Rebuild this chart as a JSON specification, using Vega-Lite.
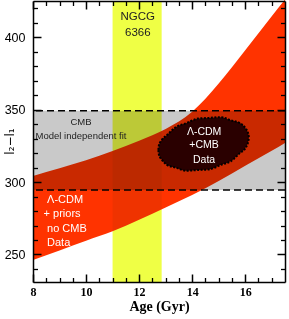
{
  "$schema": "https://vega.github.io/schema/vega-lite/v6.json",
  "width": 252,
  "height": 281,
  "autosize": {"type": "none"},
  "padding": {"left": 33, "top": 1, "right": 4, "bottom": 37},
  "background": "white",
  "config": {"view": {"stroke": null}, "axis": {"grid": false}},
  "resolve": {"axis": {"x": "independent", "y": "independent"}},
  "layer": [
    {
      "data": {"values": [{"x0": 8, "x1": 17.5, "y0": 294.5, "y1": 349.3}]},
      "mark": {"type": "rect", "fill": "#c9c9c9", "strokeWidth": 0, "blend": "multiply"},
      "encoding": {
        "x": {"field": "x0", "type": "quantitative", "scale": {"domain": [8, 17.5], "nice": false, "zero": false},
          "axis": {"orient": "bottom", "values": [8, 10, 12, 14, 16], "ticks": false, "domain": false, "labelPadding": 4,
            "labelFont": "Liberation Serif", "labelFontWeight": "bold", "labelFontSize": 12, "labelColor": "black",
            "labelFlush": false, "labelOverlap": false, "title": "Age (Gyr)", "titleFont": "Liberation Serif",
            "titleFontSize": 14, "titleFontWeight": "bold", "titleColor": "black", "titlePadding": 2}},
        "x2": {"field": "x1"},
        "y": {"field": "y0", "type": "quantitative", "scale": {"domain": [231, 425], "nice": false, "zero": false},
          "axis": {"orient": "left", "values": [250, 300, 350, 400], "ticks": false, "domain": false, "labelPadding": 8,
            "labelFont": "Liberation Sans", "labelFontSize": 12.5, "labelColor": "black", "labelFlush": false,
            "title": "l₂−l₁", "titleX": -24, "titleY": 140, "titleAngle": -90, "titleAlign": "center",
            "titleBaseline": "middle", "titleFont": "DejaVu Sans", "titleFontSize": 12, "titleFontWeight": "normal",
            "titleColor": "black"}},
        "y2": {"field": "y1"}
      }
    },
    {
      "data": {"values": [{"x0": 11.0, "x1": 12.85, "y0": 231, "y1": 425}]},
      "mark": {"type": "rect", "fill": "#efff45", "strokeWidth": 0, "blend": "multiply"},
      "encoding": {
        "x": {"field": "x0", "type": "quantitative",
          "axis": {"orient": "top", "offset": -281, "values": [8, 10, 12, 14, 16],
            "labels": false, "title": null, "domain": true, "domainColor": "black", "domainWidth": 1.5,
            "tickColor": "black", "tickWidth": 1.5, "tickSize": 8, "zindex": 2}},
        "x2": {"field": "x1"},
        "y": {"field": "y0", "type": "quantitative",
          "axis": {"orient": "right", "offset": -252, "values": [250, 300, 350, 400],
            "labels": false, "title": null, "domain": true, "domainColor": "black", "domainWidth": 1.5,
            "tickColor": "black", "tickWidth": 1.5, "tickSize": 8, "zindex": 2}},
        "y2": {"field": "y1"}
      }
    },
    {
      "data": {"values": [
        {"age": 8, "lo": 246.2, "hi": 304.2},
        {"age": 9, "lo": 252.8, "hi": 309.5},
        {"age": 10, "lo": 259.5, "hi": 315.0},
        {"age": 11, "lo": 266.0, "hi": 321.5},
        {"age": 12, "lo": 274.0, "hi": 328.5},
        {"age": 13, "lo": 282.5, "hi": 336.6},
        {"age": 14, "lo": 291.0, "hi": 348.5},
        {"age": 15, "lo": 300.7, "hi": 368.0},
        {"age": 16, "lo": 311.3, "hi": 391.0},
        {"age": 17, "lo": 321.6, "hi": 414.5},
        {"age": 17.5, "lo": 327.0, "hi": 426.0}
      ]},
      "mark": {"type": "area", "fill": "#ff3300", "blend": "multiply", "interpolate": "monotone"},
      "encoding": {
        "x": {"field": "age", "type": "quantitative",
          "axis": {"orient": "bottom", "offset": -281, "values": [8, 10, 12, 14, 16],
            "labels": false, "title": null, "domain": true, "domainColor": "black", "domainWidth": 1.5,
            "tickColor": "black", "tickWidth": 1.5, "tickSize": 8, "zindex": 2}},
        "y": {"field": "lo", "type": "quantitative",
          "axis": {"orient": "left", "offset": -252, "values": [250, 300, 350, 400],
            "labels": false, "title": null, "domain": true, "domainColor": "black", "domainWidth": 1.5,
            "tickColor": "black", "tickWidth": 1.5, "tickSize": 8, "zindex": 2}},
        "y2": {"field": "hi"}
      }
    },
    {
      "data": {"values": [
        {"age": 12.724, "lo": 322.1, "hi": 322.1},
        {"age": 12.75, "lo": 318.7, "hi": 325.6},
        {"age": 12.852, "lo": 315.6, "hi": 329.0},
        {"age": 13.052, "lo": 311.8, "hi": 332.5},
        {"age": 13.391, "lo": 309.9, "hi": 338.0},
        {"age": 13.768, "lo": 307.8, "hi": 340.6},
        {"age": 14.22, "lo": 308.3, "hi": 343.8},
        {"age": 14.635, "lo": 308.7, "hi": 344.3},
        {"age": 15.087, "lo": 311.9, "hi": 344.8},
        {"age": 15.464, "lo": 314.5, "hi": 342.6},
        {"age": 15.804, "lo": 320.1, "hi": 340.7},
        {"age": 16.003, "lo": 323.3, "hi": 337.3},
        {"age": 16.117, "lo": 328.1, "hi": 333.3},
        {"age": 16.139, "lo": 330.8, "hi": 330.8}
      ]},
      "mark": {"type": "area", "fill": "#2a0000", "stroke": "black", "strokeWidth": 2, "strokeDash": [2, 1.5], "interpolate": "monotone"},
      "encoding": {
        "x": {"field": "age", "type": "quantitative",
          "axis": {"orient": "top", "offset": -281, "values": [8.5, 9, 9.5, 10.5, 11, 11.5, 12.5, 13, 13.5, 14.5, 15, 15.5, 16.5, 17],
            "labels": false, "title": null, "domain": false, "tickColor": "black", "tickWidth": 1.3, "tickSize": 4.5, "zindex": 2}},
        "y": {"field": "lo", "type": "quantitative",
          "axis": {"orient": "right", "offset": -252, "values": [240, 260, 270, 280, 290, 310, 320, 330, 340, 360, 370, 380, 390, 410, 420],
            "labels": false, "title": null, "domain": false, "tickColor": "black", "tickWidth": 1.3, "tickSize": 4.5, "zindex": 2}},
        "y2": {"field": "hi"}
      }
    },
    {
      "data": {"values": [{"val": 349.3}, {"val": 294.5}]},
      "mark": {"type": "rule", "color": "black", "strokeWidth": 1.5, "strokeDash": [7, 4]},
      "encoding": {
        "y": {"field": "val", "type": "quantitative", "axis": null}
      }
    },
    {
      "data": {"values": [
        {"age": 11.95, "val": 414.0, "label": "NGCG"},
        {"age": 11.95, "val": 402.9, "label": "6366"}
      ]},
      "mark": {"type": "text", "font": "Liberation Sans", "fontSize": 11.5, "color": "#222222", "align": "center", "baseline": "middle"},
      "encoding": {
        "x": {"field": "age", "type": "quantitative",
          "axis": {"orient": "bottom", "offset": -281, "values": [8.5, 9, 9.5, 10.5, 11, 11.5, 12.5, 13, 13.5, 14.5, 15, 15.5, 16.5, 17],
            "labels": false, "title": null, "domain": false, "tickColor": "black", "tickWidth": 1.3, "tickSize": 4.5, "zindex": 2}},
        "y": {"field": "val", "type": "quantitative",
          "axis": {"orient": "left", "offset": -252, "values": [240, 260, 270, 280, 290, 310, 320, 330, 340, 360, 370, 380, 390, 410, 420],
            "labels": false, "title": null, "domain": false, "tickColor": "black", "tickWidth": 1.3, "tickSize": 4.5, "zindex": 2}},
        "text": {"field": "label"}
      }
    },
    {
      "data": {"values": [
        {"age": 9.81, "val": 341.5, "label": "CMB"},
        {"age": 9.81, "val": 331.8, "label": "Model independent fit"}
      ]},
      "mark": {"type": "text", "font": "Liberation Sans", "fontSize": 9.5, "color": "#222222", "align": "center", "baseline": "middle"},
      "encoding": {
        "x": {"field": "age", "type": "quantitative", "axis": null},
        "y": {"field": "val", "type": "quantitative", "axis": null},
        "text": {"field": "label"}
      }
    },
    {
      "data": {"values": [
        {"age": 14.45, "val": 334.6, "label": "Λ-CDM"},
        {"age": 14.45, "val": 325.6, "label": "+CMB"},
        {"age": 14.45, "val": 315.2, "label": "Data"}
      ]},
      "mark": {"type": "text", "font": "Liberation Sans", "fontSize": 10.5, "color": "white", "align": "center", "baseline": "middle"},
      "encoding": {
        "x": {"field": "age", "type": "quantitative", "axis": null},
        "y": {"field": "val", "type": "quantitative", "axis": null},
        "text": {"field": "label"}
      }
    },
    {
      "data": {"values": [
        {"age": 8.53, "val": 287.6, "label": "Λ-CDM"},
        {"age": 8.4, "val": 278.0, "label": "+ priors"},
        {"age": 8.53, "val": 267.6, "label": "no CMB"},
        {"age": 8.53, "val": 257.9, "label": "Data"}
      ]},
      "mark": {"type": "text", "font": "Liberation Sans", "fontSize": 11, "color": "white", "align": "left", "baseline": "middle"},
      "encoding": {
        "x": {"field": "age", "type": "quantitative", "axis": null},
        "y": {"field": "val", "type": "quantitative", "axis": null},
        "text": {"field": "label"}
      }
    }
  ]
}
